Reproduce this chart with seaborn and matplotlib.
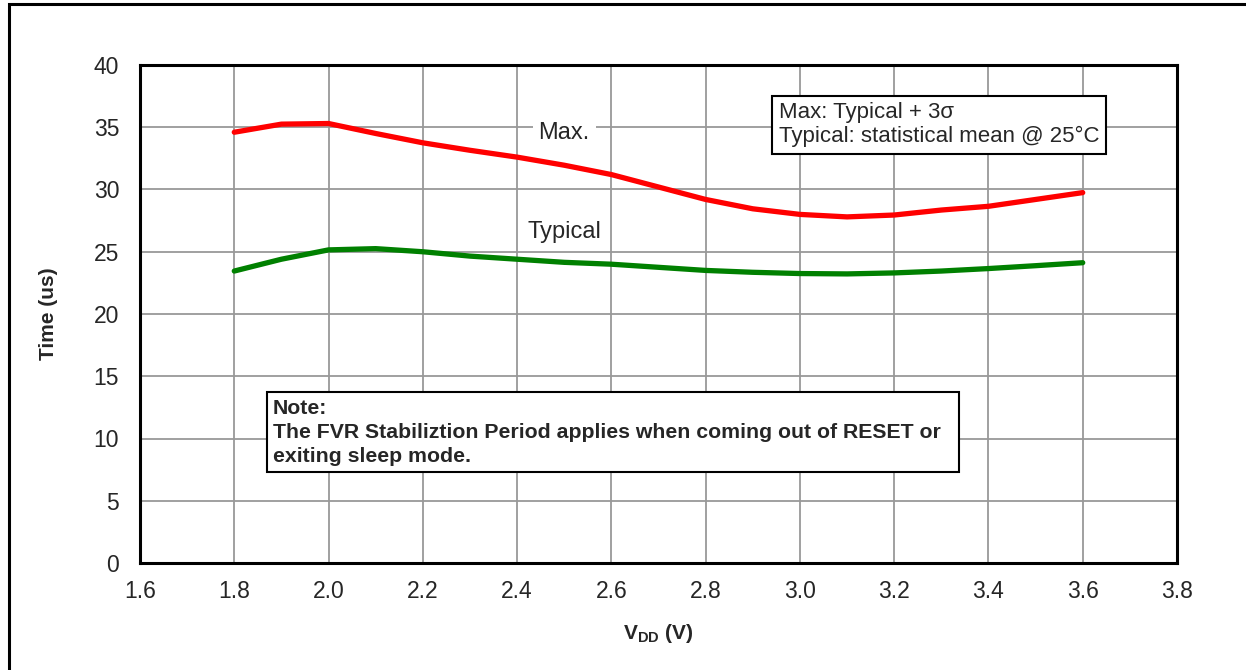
import numpy as np
import pandas as pd
import seaborn as sns
import matplotlib
matplotlib.use("Agg")
from matplotlib import pyplot as plt
from matplotlib.patches import Rectangle

# VDD in volts, values every 0.1 V
vdd = [1.8, 1.9, 2.0, 2.1, 2.2, 2.3, 2.4, 2.5, 2.6, 2.7,
       2.8, 2.9, 3.0, 3.1, 3.2, 3.3, 3.4, 3.5, 3.6]
time_max = [34.6, 35.25, 35.3, 34.5, 33.75, 33.15, 32.6, 31.95, 31.2, 30.2,
            29.2, 28.45, 28.0, 27.8, 27.95, 28.35, 28.65, 29.2, 29.75]
time_typ = [23.45, 24.4, 25.15, 25.25, 25.0, 24.65, 24.4, 24.15, 24.0, 23.75,
            23.5, 23.35, 23.25, 23.22, 23.3, 23.45, 23.65, 23.88, 24.12]

x_ticks = [1.6, 1.8, 2.0, 2.2, 2.4, 2.6, 2.8, 3.0, 3.2, 3.4, 3.6, 3.8]
y_ticks = [0, 5, 10, 15, 20, 25, 30, 35, 40]

sns.set_style("white")
plt.rcParams['font.family'] = ['Liberation Sans', 'DejaVu Sans']
plt.rcParams['mathtext.fontset'] = 'custom'
plt.rcParams['mathtext.bf'] = 'Liberation Sans:bold'
plt.rcParams['mathtext.rm'] = 'Liberation Sans'

df = pd.DataFrame({"vdd": vdd, "Max.": time_max, "Typical": time_typ})

fig = plt.figure(figsize=(12.46, 6.70), dpi=100)
ax = fig.add_axes([140 / 1246, 1 - 563 / 670, 1037 / 1246, 498 / 670])

sns.lineplot(data=df, x="vdd", y="Max.", color="#FF0000", lw=3.8, ax=ax, zorder=3)
sns.lineplot(data=df, x="vdd", y="Typical", color="#008000", lw=3.8, ax=ax, zorder=3)

ax.set_xlim(1.6, 3.8)
ax.set_ylim(0, 40)
ax.set_xticks(x_ticks)
ax.set_xticklabels(["%.1f" % v for v in x_ticks])
ax.set_yticks(y_ticks)
ax.tick_params(labelsize=16.5, length=0)
ax.tick_params(axis="x", pad=12)
ax.tick_params(axis="y", pad=15)
ax.grid(True, color="#999999", lw=1.3)
for s in ax.spines.values():
    s.set_color("black")
    s.set_linewidth(2.2)

ax.set_xlabel(r"V$_{\mathbf{DD}}$ (V)", fontsize=15, fontweight="bold", labelpad=14)
ax.set_ylabel("Time (us)", fontsize=15, fontweight="bold", labelpad=26)

# curve labels
ax.text(2.5, 34.5, "Max.", fontsize=17, ha="center", va="center", zorder=4,
        bbox=dict(facecolor="white", edgecolor="none", pad=4))
ax.text(2.5, 26.6, "Typical", fontsize=17, ha="center", va="center", zorder=4,
        bbox=dict(facecolor="white", edgecolor="none", pad=2))

# legend-like note box top right
ax.text(2.955, 35.2, u"Max: Typical + 3\u03c3\nTypical: statistical mean @ 25\u00b0C",
        fontsize=16, ha="left", va="center", linespacing=1.15, zorder=4,
        bbox=dict(facecolor="white", edgecolor="black", lw=1.5, boxstyle="square,pad=0.3"))

# note box
ax.text(1.882, 10.5, "Note:\nThe FVR Stabiliztion Period applies when coming out of RESET or  \nexiting sleep mode.",
        fontsize=15.3, fontweight="bold", ha="left", va="center", linespacing=1.35, zorder=4,
        bbox=dict(facecolor="white", edgecolor="black", lw=1.5, boxstyle="square,pad=0.3"))

# outer frame (left and top edges visible)
fig.patches.append(Rectangle((9 / 1246, -0.1), 1.2, 1.1 - 4 / 670, transform=fig.transFigure,
                             fill=False, edgecolor="black", lw=2.2))

fig.savefig("out.png", dpi=100)
